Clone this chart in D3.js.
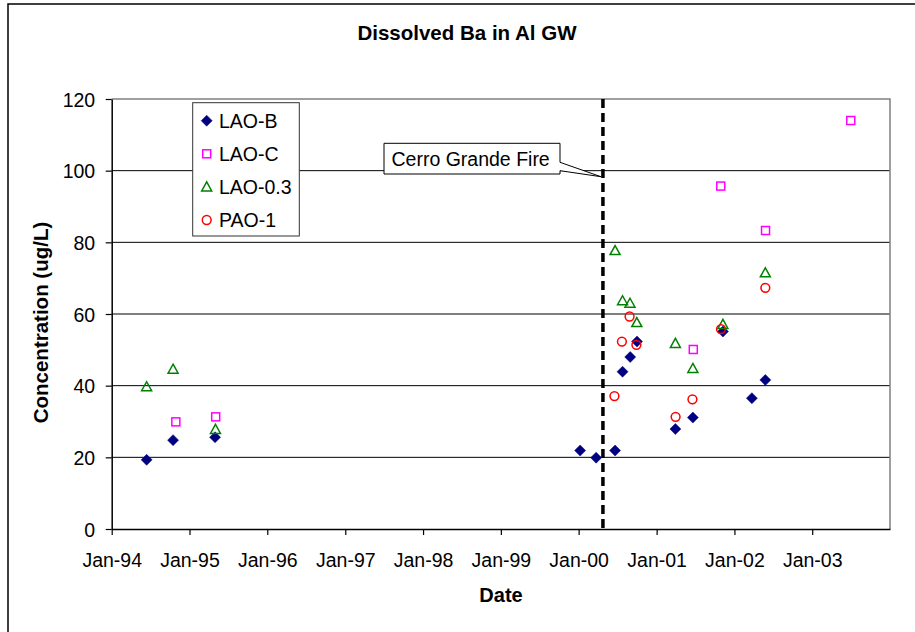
<!DOCTYPE html>
<html><head><meta charset="utf-8">
<script src="https://cdn.jsdelivr.net/npm/d3@7/dist/d3.min.js"></script>
<style>
body{margin:0;background:#fff;}
svg text{font-family:"Liberation Sans",Arial,sans-serif;fill:#000;}
</style></head>
<body><svg id="c" width="915" height="632"></svg>
<script>
// ---- data ----
const title = "Dissolved Ba in Al GW";
const xTitle = "Date";
const yTitle = "Concentration (ug/L)";
const yTicks = [0,20,40,60,80,100,120];
const xTickYears = [1994,1995,1996,1997,1998,1999,2000,2001,2002,2003];
const fireDate = "2000-04-24";
const fireLabel = "Cerro Grande Fire";

const laoBDates = ["1994-06-14","1994-10-16","1995-05-01","2000-01-08","2000-03-23","2000-06-20","2000-07-25","2000-08-30","2000-10-01","2001-03-30","2001-06-20","2001-11-08","2002-03-24","2002-05-26"];
const laoBValues = [19.3,24.8,25.6,21.9,19.9,21.9,43.9,48.0,52.3,27.9,31.1,55.1,36.5,41.6];

const laoCDates = ["1994-10-29","1995-05-04","2001-06-22","2001-10-29","2002-05-27","2003-07-01"];
const laoCValues = [29.9,31.3,50.1,95.7,83.3,114.0];

const lao03Dates = ["1994-06-14","1994-10-16","1995-05-03","2000-06-20","2000-07-25","2000-08-29","2000-09-30","2001-03-30","2001-06-20","2001-11-08","2002-05-26"];
const lao03Values = [39.7,44.6,27.8,77.7,63.7,63.0,57.6,51.8,44.8,57.1,71.5];

const pao1Dates = ["2000-06-17","2000-07-22","2000-08-27","2000-09-28","2001-03-31","2001-06-18","2001-10-30","2002-05-26"];
const pao1Values = [37.1,52.3,59.3,51.4,31.3,36.2,55.8,67.3];

const seriesNames = ["LAO-B","LAO-C","LAO-0.3","PAO-1"];

// ---- build ----
const parse = d3.utcParse("%Y-%m-%d");
const series = [
  {name:seriesNames[0], dates:laoBDates, values:laoBValues, shape:"diamond", color:"#000080"},
  {name:seriesNames[1], dates:laoCDates, values:laoCValues, shape:"square", color:"#FF00FF"},
  {name:seriesNames[2], dates:lao03Dates, values:lao03Values, shape:"triangle", color:"#008000"},
  {name:seriesNames[3], dates:pao1Dates, values:pao1Values, shape:"circle", color:"#FF0000"}
];

const svg = d3.select("#c");
const FS = 19.5;
const L = 111.7, R = 890, T = 99, B = 529;

const x = d3.scaleUtc().domain([Date.UTC(1994,0,1), Date.UTC(2004,0,1)]).range([L,R]);
const y = d3.scaleLinear().domain([0,120]).range([B,T]);

// outer chart border
svg.append("rect").attr("x",8).attr("y",4).attr("width",920).attr("height",640)
  .attr("fill","#fff").attr("stroke","#000").attr("stroke-width",1.5);

// gridlines
svg.append("g").selectAll("line").data(yTicks.filter(v=>v>0 && v<120)).join("line")
  .attr("x1",L).attr("x2",R).attr("y1",d=>y(d)).attr("y2",d=>y(d))
  .attr("stroke","#000").attr("stroke-width",1);

// plot area border (top/right gray)
svg.append("path").attr("d",`M${L},${T}H${R}V${B}`).attr("fill","none")
  .attr("stroke","#808080").attr("stroke-width",1.5);

// axes
const xAxis = d3.axisBottom(x)
  .tickValues(xTickYears.map(yr=>new Date(Date.UTC(yr,0,1))))
  .tickFormat(d3.utcFormat("%b-%y")).tickSize(6).tickSizeOuter(0);
const gx = svg.append("g").attr("transform",`translate(0,${B})`).call(xAxis);
gx.select(".domain").attr("stroke","#000").attr("stroke-width",1.5);
gx.selectAll(".tick line").attr("stroke","#000").attr("stroke-width",1.2);
gx.selectAll(".tick text").attr("font-size",FS).attr("font-family","Liberation Sans, Arial, sans-serif")
  .attr("y",37.7).attr("dy",0).attr("fill","#000");

const yAxis = d3.axisLeft(y).tickValues(yTicks).tickSize(6).tickSizeOuter(0);
const gy = svg.append("g").attr("transform",`translate(${L},0)`).call(yAxis);
gy.select(".domain").attr("stroke","#000").attr("stroke-width",1.5);
gy.selectAll(".tick line").attr("stroke","#000").attr("stroke-width",1.2);
gy.selectAll(".tick text").attr("font-size",FS).attr("font-family","Liberation Sans, Arial, sans-serif")
  .attr("x",-16.5).attr("dy","0.36em").attr("fill","#000");

// fire line
svg.append("line").attr("x1",x(parse(fireDate))).attr("x2",x(parse(fireDate)))
  .attr("y1",T).attr("y2",B).attr("stroke","#000").attr("stroke-width",3.5)
  .attr("stroke-dasharray","9,5");

// markers
function drawMarker(g, shape, color, cx, cy){
  if(shape==="diamond"){
    g.append("path").attr("d",`M${cx},${cy-5.5}L${cx+5.5},${cy}L${cx},${cy+5.5}L${cx-5.5},${cy}Z`)
      .attr("fill",color).attr("stroke",color).attr("stroke-width",0.5);
  } else if(shape==="square"){
    g.append("rect").attr("x",cx-4).attr("y",cy-4).attr("width",8).attr("height",8)
      .attr("fill","none").attr("stroke",color).attr("stroke-width",1.5);
  } else if(shape==="triangle"){
    g.append("path").attr("d",`M${cx},${cy-5}L${cx+5},${cy+4}L${cx-5},${cy+4}Z`)
      .attr("fill","none").attr("stroke",color).attr("stroke-width",1.5);
  } else {
    g.append("circle").attr("cx",cx).attr("cy",cy).attr("r",4.4)
      .attr("fill","none").attr("stroke",color).attr("stroke-width",1.5);
  }
}
const gm = svg.append("g");
series.forEach(s=>{
  s.dates.forEach((d,i)=>drawMarker(gm, s.shape, s.color, x(parse(d)), y(s.values[i])));
});

// callout
const fx = x(parse(fireDate));
const cg = svg.append("g");
cg.append("path")
  .attr("d",`M384,143.3H560V162.3L${fx-2},176.7L560,170.7V174H384Z`)
  .attr("fill","#fff").attr("stroke","#000").attr("stroke-width",1);
cg.append("text").attr("x",391.5).attr("y",165.5).attr("font-size",FS).text(fireLabel);

// legend
const lg = svg.append("g");
lg.append("rect").attr("x",192.7).attr("y",102.7).attr("width",106.6).attr("height",133.3)
  .attr("fill","#fff").attr("stroke","#333").attr("stroke-width",1);
series.forEach((s,i)=>{
  const cy = 120.7 + i*33.1;
  drawMarker(lg, s.shape, s.color, 206.7, cy);
  lg.append("text").attr("x",219).attr("y",cy+7).attr("font-size",FS).text(s.name);
});

// titles
svg.append("text").attr("x",467).attr("y",40).attr("text-anchor","middle")
  .attr("font-size",20.5).attr("font-weight","bold").text(title);
svg.append("text").attr("x",501).attr("y",602).attr("text-anchor","middle")
  .attr("font-size",20).attr("font-weight","bold").text(xTitle);
svg.append("text").attr("transform","translate(47.5,322.5) rotate(-90)").attr("text-anchor","middle")
  .attr("font-size",20.5).attr("font-weight","bold").text(yTitle);
</script></body></html>
